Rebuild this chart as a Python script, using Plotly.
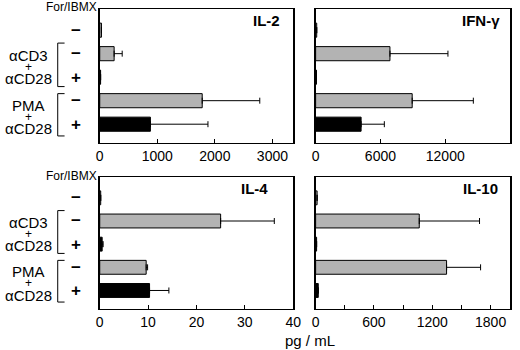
import plotly.graph_objects as go

# ---- data ----
rows = [0, 1, 2, 3, 4]  # top to bottom: -, (aCD3+aCD28) -, +, (PMA+aCD28) -, +
forsk = ["−", "−", "+", "−", "+"]
panels = ["IL-2", "IFN-γ", "IL-4", "IL-10"]

il2 = [30, 250, 15, 1780, 880]
il2_err = [0, 140, 0, 1000, 1000]
ifng = [100, 6880, 80, 8940, 4210]
ifng_err = [0, 5370, 0, 5660, 2150]
il4 = [0.2, 25.0, 0.5, 9.6, 10.3]
il4_err = [0, 11.1, 0.2, 0.3, 4.0]
il10 = [15, 1066, 10, 1347, 27]
il10_err = [0, 620, 0, 350, 0]

values = [il2, ifng, il4, il10]
errors = [il2_err, ifng_err, il4_err, il10_err]
xranges = [[0, 3360], [0, 18000], [0, 40], [0, 2000]]
xdticks = [1000, 6000, 10, 600]
xminor = [None, None, None, 300]

bar_colors = ["#b3b3b3", "#b3b3b3", "#000000", "#b3b3b3", "#000000"]

W, H = 520, 350
FONT = "Liberation Sans, Arial, Helvetica, sans-serif"


def px(x):
    return x / W


def py(y):
    return 1 - y / H


xdom = [[px(98), px(296)], [px(319), px(518)]]
ydom = [[py(143), py(9)], [py(309), py(177)]]

fig = go.Figure()
layout = dict(
    width=W, height=H, margin=dict(l=0, r=0, t=0, b=0),
    paper_bgcolor="white", plot_bgcolor="white", showlegend=False,
    font=dict(family=FONT, color="black", size=14),
    bargap=0.4,
)

annotations = []
shapes = []
title_right = [285, 510, 272, 508]
title_y = [20, 20, 188, 188]

for i in range(4):
    r, c = divmod(i, 2)
    n = "" if i == 0 else str(i + 1)
    fig.add_trace(go.Bar(
        x=values[i], y=rows, orientation="h", width=0.6,
        marker=dict(color=bar_colors, line=dict(color="black", width=1)),
        error_x=dict(type="data", array=errors[i], arrayminus=[0] * 5,
                     symmetric=False, color="black", thickness=1, width=3),
        xaxis="x" + n, yaxis="y" + n,
    ))
    xa = dict(
        domain=xdom[c], range=xranges[i], dtick=xdticks[i], tick0=0,
        tickformat="d",
        ticks="inside", ticklen=4, tickcolor="black", showgrid=False,
        zeroline=False, showline=True, linecolor="black", linewidth=1,
        mirror=True, anchor="y" + n, tickfont=dict(size=14, family=FONT),
        fixedrange=True,
    )
    if xminor[i]:
        xa["minor"] = dict(dtick=xminor[i], ticks="inside", ticklen=4,
                           tickcolor="black")
    ya = dict(
        domain=ydom[r], range=[4.8, -0.9], showticklabels=False, ticks="",
        showgrid=False, zeroline=False, showline=True, linecolor="black",
        linewidth=1.5, mirror=True, anchor="x" + n, fixedrange=True,
    )
    layout["xaxis" + n] = xa
    layout["yaxis" + n] = ya
    annotations.append(dict(
        text="<b>%s</b>" % panels[i], xref="paper", yref="paper",
        x=px(title_right[i]), y=py(title_y[i]), xanchor="right",
        yanchor="middle", showarrow=False, font=dict(size=15, family=FONT),
    ))

# left-side row labels for the two rows of panels
for r in range(2):
    yref = "y" if r == 0 else "y3"
    top_px = 7 if r == 0 else 176
    annotations.append(dict(
        text="For/IBMX", xref="paper", yref="paper", x=px(97), y=py(top_px),
        xanchor="right", yanchor="middle", showarrow=False,
        font=dict(size=12, family=FONT),
    ))
    for k in rows:
        annotations.append(dict(
            text="<b>%s</b>" % forsk[k], xref="paper", yref=yref, x=px(74),
            y=k, xanchor="center", yanchor="middle", showarrow=False,
            font=dict(size=17, family=FONT),
        ))
    for lbl, yy, sz in [("αCD3", 1.07, 15), ("+", 1.55, 12), ("αCD28", 2.06, 15),
                        ("PMA", 3.2, 15), ("+", 3.68, 12), ("αCD28", 4.2, 15)]:
        annotations.append(dict(
            text=lbl, xref="paper", yref=yref, x=px(25), y=yy,
            xanchor="center", yanchor="middle", showarrow=False,
            font=dict(size=sz, family=FONT),
        ))
    for y0, y1 in [(0.55, 2.4), (2.7, 4.5)]:
        for (xa0, ya0, xa1, ya1) in [(55, y0, 55, y1), (55, y0, 62, y0),
                                     (55, y1, 62, y1)]:
            shapes.append(dict(type="line", xref="paper", yref=yref,
                               x0=px(xa0), x1=px(xa1), y0=ya0, y1=ya1,
                               line=dict(color="black", width=1)))

annotations.append(dict(
    text="pg / mL", xref="paper", yref="paper", x=px(313), y=py(340),
    xanchor="center", yanchor="middle", showarrow=False,
    font=dict(size=15, family=FONT),
))

layout["annotations"] = annotations
layout["shapes"] = shapes
fig.update_layout(**layout)
fig.write_html("out.html",
               config={"displayModeBar": False},
               post_script="document.body.style.margin='0';"
                           "document.body.style.padding='0';")
